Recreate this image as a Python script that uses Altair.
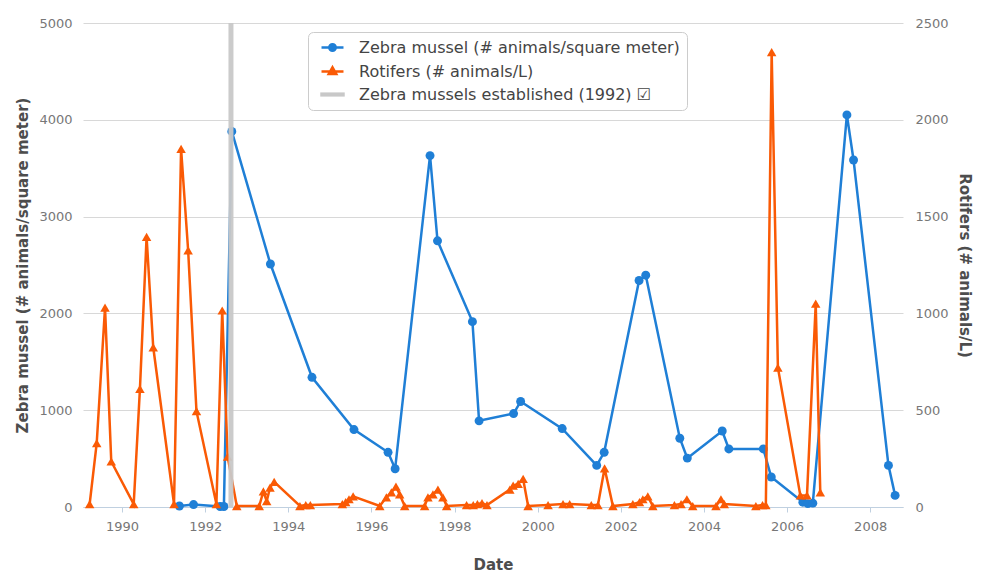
import altair as alt
import pandas as pd

# ---- data (decimal years) ----
zebra_year = [1991.38, 1991.72, 1992.36, 1992.45, 1992.64, 1993.57, 1994.57, 1995.58,
              1996.40, 1996.57, 1997.41, 1997.59, 1998.43, 1998.59, 1999.42, 1999.59,
              2000.59, 2001.42, 2001.60, 2002.44, 2002.60, 2003.42, 2003.60, 2004.44,
              2004.60, 2005.43, 2005.62, 2006.38, 2006.50, 2006.62, 2007.44, 2007.60,
              2008.44, 2008.60]
zebra_value = [10, 25, 5, 5, 3880, 2510, 1340, 800,
               565, 395, 3630, 2750, 1915, 890, 965, 1090,
               810, 430, 565, 2340, 2395, 710, 505, 785,
               600, 600, 310, 50, 35, 40, 4050, 3585,
               430, 120]

rot_year = [1989.22, 1989.39, 1989.59, 1989.74, 1990.28, 1990.43, 1990.59, 1990.75,
            1991.25, 1991.42, 1991.59, 1991.79, 1992.27, 1992.41, 1992.54, 1992.76,
            1993.30, 1993.40, 1993.48, 1993.56, 1993.66, 1994.28, 1994.42, 1994.53,
            1995.30, 1995.38, 1995.46, 1995.56, 1996.20, 1996.36, 1996.48, 1996.59,
            1996.68, 1996.80, 1997.28, 1997.36, 1997.48, 1997.60, 1997.72, 1997.81,
            1998.29, 1998.45, 1998.55, 1998.66, 1998.78, 1999.33, 1999.41, 1999.53,
            1999.65, 1999.77, 2000.25, 2000.61, 2000.77, 2001.29, 2001.45, 2001.61,
            2001.81, 2002.29, 2002.45, 2002.53, 2002.65, 2002.77, 2003.29, 2003.45,
            2003.59, 2003.73, 2004.29, 2004.41, 2004.49, 2005.25, 2005.41, 2005.49,
            2005.63, 2005.78, 2006.32, 2006.48, 2006.69, 2006.80]
rot_value = [15, 330, 1030, 235, 15, 610, 1395, 825,
             15, 1850, 1325, 495, 15, 1015, 260, 5,
             5, 80, 30, 100, 130, 5, 10, 10,
             15, 25, 40, 55, 5, 50, 75, 105,
             65, 5, 5, 50, 65, 90, 50, 5,
             10, 10, 15, 20, 10, 90, 110, 120,
             145, 5, 10, 15, 15, 10, 10, 200,
             5, 15, 25, 40, 55, 5, 10, 15,
             40, 5, 5, 40, 15, 5, 10, 10,
             2350, 720, 60, 60, 1050, 75]

established_year = [1992.62]

series_names = ["Zebra mussel (# animals/square meter)",
                "Rotifers (# animals/L)",
                "Zebra mussels established (1992)"]

x_ticks = list(range(1990, 2009, 2))
left_ticks = [0, 1000, 2000, 3000, 4000, 5000]
right_ticks = [0, 500, 1000, 1500, 2000, 2500]

# ---- styling ----
FONT = "DejaVu Sans"
BLUE = "#1f7fd6"
ORANGE = "#fa5a05"
GRAY = "#c8c8c8"
series_colors = [BLUE, ORANGE, GRAY]

k = 0.254
circle_path = ("M-1.57,0L1.57,0M0.46,0C0.46,%s,%s,0.46,0,0.46C-%s,0.46,-0.46,%s,-0.46,0"
               "C-0.46,-%s,-%s,-0.46,0,-0.46C%s,-0.46,0.46,-%s,0.46,0Z") % ((k,) * 8)
triangle_path = "M-1.57,0L1.57,0M0,-0.6L0.54,0.35L-0.54,0.35Z"
band_path = "M-1.57,-0.12L1.57,-0.12L1.57,0.12L-1.57,0.12Z"
legend_shapes = [circle_path, triangle_path, band_path]

zebra_df = pd.DataFrame({"year": zebra_year, "value": zebra_value})
rot_df = pd.DataFrame({"year": rot_year, "value": rot_value})
est_df = pd.DataFrame({"year": established_year})
legend_df = pd.DataFrame({"series": series_names})

x_enc = alt.X(
    "year:Q",
    scale=alt.Scale(domain=[1989.06, 2008.79], nice=False, zero=False),
    axis=alt.Axis(values=x_ticks, format="d", title="Date", grid=False,
                  labelFont=FONT, labelFontSize=13, labelColor="#777777", labelPadding=8,
                  tickSize=5, tickColor="#C0D0E0", domainColor="#C0D0E0",
                  titleFont=FONT, titleFontSize=15, titleFontWeight="bold",
                  titleColor="#4d4d4d", titlePadding=24),
)

zebra_chart = alt.Chart(zebra_df).mark_line(
    color=BLUE, strokeWidth=2.5,
    point=alt.OverlayMarkDef(filled=True, shape="circle", size=80, color=BLUE, opacity=1),
).encode(
    x=x_enc,
    y=alt.Y("value:Q", scale=alt.Scale(domain=[0, 5000], nice=False),
            axis=alt.Axis(values=left_ticks, format="d", orient="left", title=series_names[0],
                          grid=True, gridColor="#D8D8D8", domain=False, ticks=False,
                          labelFont=FONT, labelFontSize=13, labelColor="#777777", labelPadding=11,
                          titleFont=FONT, titleFontSize=15, titleFontWeight="bold",
                          titleColor="#4d4d4d", titlePadding=8)),
)

rot_chart = alt.Chart(rot_df).mark_line(
    color=ORANGE, strokeWidth=2.5,
    point=alt.OverlayMarkDef(filled=True, shape="triangle-up", size=90, color=ORANGE, opacity=1),
).encode(
    x=x_enc,
    y=alt.Y("value:Q", scale=alt.Scale(domain=[0, 2500], nice=False),
            axis=alt.Axis(values=right_ticks, format="d", orient="right", title=series_names[1],
                          grid=False, domain=False, ticks=False,
                          labelFont=FONT, labelFontSize=13, labelColor="#777777", labelPadding=12,
                          titleFont=FONT, titleFontSize=15, titleFontWeight="bold",
                          titleColor="#4d4d4d", titlePadding=8)),
)

rule = alt.Chart(est_df).mark_rule(color=GRAY, strokeWidth=5, opacity=0.95).encode(x=x_enc)

legend = alt.Legend(
    orient="none", legendX=225, legendY=9, title=None, padding=7,
    fillColor="white", strokeColor="#cccccc", cornerRadius=5,
    symbolSize=196, symbolStrokeWidth=2.5, symbolOffset=9, labelOffset=18,
    rowPadding=6, labelFont=FONT, labelFontSize=16, labelColor="#444444", labelLimit=600,
    labelExpr="datum.label == 'Zebra mussels established (1992)' ? datum.label + ' \u2611' : datum.label",
)

proxy = alt.Chart(legend_df).mark_point(filled=True, size=196, opacity=1, clip=True).encode(
    x=alt.value(-60),
    y=alt.value(-60),
    fill=alt.Fill("series:N", scale=alt.Scale(domain=series_names, range=series_colors), legend=legend),
    stroke=alt.Stroke("series:N", scale=alt.Scale(domain=series_names, range=series_colors), legend=legend),
    shape=alt.Shape("series:N", scale=alt.Scale(domain=series_names, range=legend_shapes), legend=legend),
)

chart = alt.layer(zebra_chart, rot_chart, rule, proxy).resolve_scale(
    y="independent"
).properties(
    width=820, height=484,
    autosize=alt.AutoSizeParams(type="none"),
    padding={"left": 75, "top": 15, "right": 74, "bottom": 70},
).configure_view(stroke=None)

chart.save("out.html", embed_options={"renderer": "svg", "actions": False})
